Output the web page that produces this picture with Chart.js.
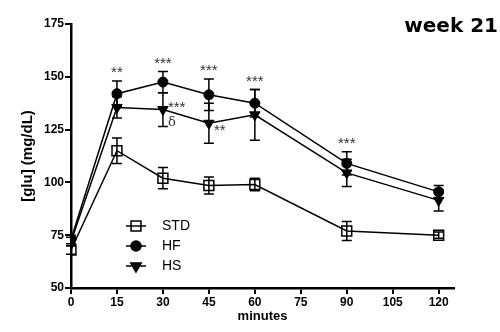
<!DOCTYPE html>
<html>
<head>
<meta charset="utf-8">
<script src="https://cdn.jsdelivr.net/npm/chart.js@4.4.1/dist/chart.umd.min.js"></script>
<style>
  html, body { margin: 0; padding: 0; background: #fff; }
  #wrap { width: 500px; height: 332px; }
</style>
</head>
<body>
<div id="wrap"><canvas id="myChart" width="500" height="332"></canvas></div>
<script>
const minutes = [0, 15, 30, 45, 60, 90, 120];

const stdMean = [68, 115, 102, 98.5, 99, 77, 75];
const stdErr  = [2, 6, 5, 4, 3, 4.5, 1.5];
const hfMean  = [73, 142, 147.5, 141.5, 137.5, 109, 95.5];
const hfErr   = [2, 6, 5, 7.5, 6.5, 5.5, 3];
const hsMean  = [72, 135.5, 134.5, 128, 132, 104.5, 91.5];
const hsErr   = [2, 5, 8, 9.5, 12, 6.5, 5];

// significance marks (HF vs STD above, HS vs STD beside)
const hfSig   = ['', '**', '***', '***', '***', '***', ''];
const hsSig   = ['', '', '***', '**', '', '', ''];
const hsDelta = ['', '', 'δ', '', '', '', ''];

const xTicks = [0, 15, 30, 45, 60, 75, 90, 105, 120];
const yTicks = [50, 75, 100, 125, 150, 175];

const errors = [stdErr, hfErr, hsErr];
const tickFont = { family: 'Liberation Sans, Arial, sans-serif', size: 12, weight: 'bold' };

const toPoints = (vals) => vals.map((v, i) => ({ x: minutes[i], y: v }));

const data = {
  datasets: [
    {
      label: 'STD',
      data: toPoints(stdMean),
      borderColor: '#000',
      borderWidth: 1.5,
      pointStyle: 'rect',
      pointRadius: 7,
      pointBorderWidth: 1.5,
      pointBorderColor: '#000',
      pointBackgroundColor: 'rgba(0,0,0,0)'
    },
    {
      label: 'HF',
      data: toPoints(hfMean),
      borderColor: '#000',
      borderWidth: 1.5,
      pointStyle: 'circle',
      pointRadius: 5,
      pointBorderWidth: 1,
      pointBorderColor: '#000',
      pointBackgroundColor: '#000'
    },
    {
      label: 'HS',
      data: toPoints(hsMean),
      borderColor: '#000',
      borderWidth: 1.5,
      pointStyle: 'triangle',
      pointRotation: 180,
      pointRadius: 6,
      pointBorderWidth: 1,
      pointBorderColor: '#000',
      pointBackgroundColor: '#000'
    }
  ]
};

const errorBars = {
  id: 'errorBars',
  afterDatasetsDraw(chart) {
    const {ctx, scales: {x, y}} = chart;
    ctx.save();
    ctx.strokeStyle = '#000';
    ctx.lineWidth = 1.5;
    chart.data.datasets.forEach((ds, i) => {
      ds.data.forEach((p, j) => {
        const e = errors[i][j];
        const px = x.getPixelForValue(p.x);
        const top = y.getPixelForValue(p.y + e);
        const bot = y.getPixelForValue(p.y - e);
        ctx.beginPath();
        ctx.moveTo(px, top);
        ctx.lineTo(px, bot);
        ctx.moveTo(px - 5, top);
        ctx.lineTo(px + 5, top);
        ctx.moveTo(px - 5, bot);
        ctx.lineTo(px + 5, bot);
        ctx.stroke();
      });
    });
    ctx.restore();
  }
};

const extras = {
  id: 'extras',
  afterDraw(chart) {
    const {ctx, chartArea, scales: {x, y}} = chart;
    ctx.save();

    // stars over HF error bars
    ctx.fillStyle = '#333';
    ctx.font = '15px Liberation Sans, Arial, sans-serif';
    ctx.textAlign = 'center';
    ctx.textBaseline = 'middle';
    hfSig.forEach((s, j) => {
      if (!s) return;
      const px = x.getPixelForValue(minutes[j]);
      const py = y.getPixelForValue(hfMean[j] + hfErr[j]);
      ctx.fillText(s, px, py - 8);
    });

    // HS marks to the right of the points
    ctx.textAlign = 'left';
    hsSig.forEach((s, j) => {
      if (!s) return;
      const px = x.getPixelForValue(minutes[j]);
      const py = y.getPixelForValue(hsMean[j]);
      const dy = j === 2 ? -2 : 8;
      ctx.fillText(s, px + 5, py + dy);
    });
    ctx.font = '13px DejaVu Serif, serif';
    hsDelta.forEach((s, j) => {
      if (!s) return;
      const px = x.getPixelForValue(minutes[j]);
      const py = y.getPixelForValue(hsMean[j]);
      ctx.fillText(s, px + 5, py + 13);
    });

    // legend inside the plot
    ctx.font = '14px Liberation Sans, Arial, sans-serif';
    ctx.textBaseline = 'middle';
    chart.data.datasets.forEach((ds, i) => {
      const cx = chartArea.left + 65;
      const cy = chartArea.top + 202 + i * 20;
      ctx.strokeStyle = '#000';
      ctx.lineWidth = 1.5;
      ctx.beginPath();
      ctx.moveTo(cx - 10, cy);
      ctx.lineTo(cx + 10, cy);
      ctx.stroke();
      ctx.fillStyle = ds.pointBackgroundColor;
      Chart.helpers.drawPoint(ctx, {
        pointStyle: ds.pointStyle,
        radius: ds.pointRadius,
        rotation: ds.pointRotation || 0,
        borderWidth: ds.pointBorderWidth
      }, cx, cy);
      ctx.fillStyle = '#000';
      ctx.fillText(ds.label, cx + 26, cy);
    });

    // panel label
    ctx.font = 'bold 20px DejaVu Sans, sans-serif';
    ctx.textAlign = 'right';
    ctx.textBaseline = 'middle';
    ctx.fillStyle = '#000';
    ctx.fillText('week 21', 498, 27);

    ctx.restore();
  }
};

const config = {
  type: 'line',
  data,
  options: {
    responsive: false,
    animation: false,
    layout: { padding: { top: 24, right: 46, bottom: 0, left: 0 } },
    plugins: {
      legend: { display: false },
      tooltip: { enabled: false }
    },
    scales: {
      x: {
        type: 'linear',
        min: 0,
        max: 125,
        afterBuildTicks: (scale) => { scale.ticks = xTicks.map(v => ({ value: v })); },
        afterFit: (scale) => { scale.height = 44; },
        border: { display: true, color: '#000', width: 2.5 },
        grid: { drawOnChartArea: false, drawTicks: true, tickLength: 6, color: '#000', lineWidth: 2 },
        ticks: { color: '#000', font: tickFont, padding: 1, maxRotation: 0 },
        title: {
          display: true,
          text: 'minutes',
          color: '#000',
          font: { family: 'Liberation Sans, Arial, sans-serif', size: 13, weight: 'bold' },
          padding: { top: 0, bottom: 8 }
        }
      },
      y: {
        min: 50,
        max: 175,
        afterBuildTicks: (scale) => { scale.ticks = yTicks.map(v => ({ value: v })); },
        afterFit: (scale) => { scale.width = 71; },
        border: { display: true, color: '#000', width: 2.5 },
        grid: { drawOnChartArea: false, drawTicks: true, tickLength: 6, color: '#000', lineWidth: 2 },
        ticks: { color: '#000', font: tickFont, padding: 1 },
        title: {
          display: true,
          text: '[glu] (mg/dL)',
          color: '#000',
          font: { family: 'Liberation Sans, Arial, sans-serif', size: 15, weight: 'bold' },
          padding: { top: 19, bottom: 0 }
        }
      }
    }
  },
  plugins: [errorBars, extras]
};

const myChart = new Chart(document.getElementById('myChart'), config);
</script>
</body>
</html>
